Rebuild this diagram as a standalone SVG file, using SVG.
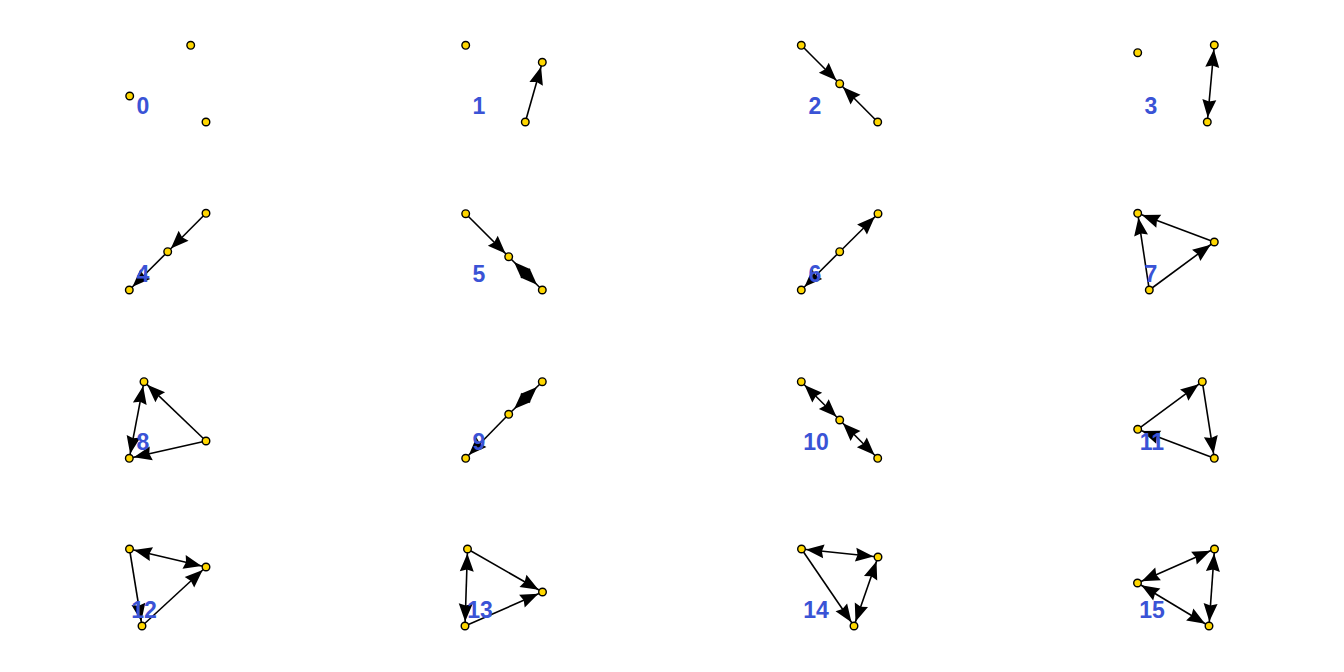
<svg xmlns="http://www.w3.org/2000/svg" width="1344" height="672" viewBox="0 0 1344 672">
<style>
.e{stroke:#000;stroke-width:1.6;fill:none;marker-end:url(#ah)}
.m{stroke:#000;stroke-width:1.6;fill:none;marker-end:url(#ah);marker-start:url(#ah)}
.d{stroke:#000;stroke-width:1.6;fill:none;marker-end:url(#ad);marker-start:url(#ad)}
.n{fill:#FFD700;stroke:#000;stroke-width:1.4}
.l{font-family:"Liberation Sans",Arial,sans-serif;font-weight:bold;font-size:23px;fill:#3A53D6;text-anchor:middle}
</style>
<defs>
<marker id="ah" markerUnits="userSpaceOnUse" orient="auto-start-reverse" refX="22.5" refY="0" markerWidth="24" markerHeight="16" overflow="visible">
<path d="M18,0 L0,-7 L2,0 L0,7 Z" fill="#000"/>
</marker>
<marker id="ad" markerUnits="userSpaceOnUse" orient="auto-start-reverse" refX="23.5" refY="0" markerWidth="24" markerHeight="16" overflow="visible">
<path d="M16,0 L-0.8,-6.5 L-0.8,6.5 Z" fill="#000"/>
</marker>
</defs>
<rect width="1344" height="672" fill="#fff"/>
<g id="edges">
<line class="e" x1="525.3" y1="122" x2="542.3" y2="62.3"/>
<line class="e" x1="801.3" y1="45.3" x2="839.7" y2="83.7"/>
<line class="e" x1="877.7" y1="122" x2="839.7" y2="83.7"/>
<line class="m" x1="1214.3" y1="45" x2="1207.3" y2="122"/>
<line class="e" x1="206" y1="213.3" x2="167.7" y2="251.7"/>
<line class="e" x1="167.7" y1="251.7" x2="129.3" y2="290"/>
<line class="e" x1="465.7" y1="213.7" x2="508.7" y2="256.7"/>
<line class="d" x1="508.7" y1="256.7" x2="542.3" y2="290"/>
<line class="e" x1="839.7" y1="251.7" x2="878" y2="213.7"/>
<line class="e" x1="839.7" y1="251.7" x2="801.3" y2="290"/>
<line class="e" x1="1214.3" y1="242" x2="1137.7" y2="213.3"/>
<line class="e" x1="1149.3" y1="290" x2="1137.7" y2="213.3"/>
<line class="e" x1="1149.3" y1="290" x2="1214.3" y2="242"/>
<line class="e" x1="206" y1="441" x2="144" y2="381.7"/>
<line class="m" x1="144" y1="381.7" x2="129.3" y2="458.3"/>
<line class="e" x1="206" y1="441" x2="129.3" y2="458.3"/>
<line class="d" x1="508.7" y1="414.3" x2="542.3" y2="381.7"/>
<line class="e" x1="508.7" y1="414.3" x2="465.7" y2="458.3"/>
<line class="m" x1="801.3" y1="381.7" x2="839.7" y2="420"/>
<line class="m" x1="839.7" y1="420" x2="877.7" y2="458.3"/>
<line class="e" x1="1137.7" y1="429.3" x2="1202.3" y2="381.7"/>
<line class="e" x1="1202.3" y1="381.7" x2="1214.3" y2="458.3"/>
<line class="e" x1="1214.3" y1="458.3" x2="1137.7" y2="429.3"/>
<line class="m" x1="129.5" y1="549" x2="206" y2="567"/>
<line class="e" x1="142" y1="626" x2="206" y2="567"/>
<line class="e" x1="129.5" y1="549" x2="142" y2="626"/>
<line class="m" x1="467.5" y1="549" x2="465" y2="626"/>
<line class="e" x1="467.5" y1="549" x2="542.5" y2="592"/>
<line class="e" x1="465" y1="626" x2="542.5" y2="592"/>
<line class="m" x1="801.5" y1="549" x2="878" y2="557"/>
<line class="e" x1="801.5" y1="549" x2="854" y2="626"/>
<line class="m" x1="854" y1="626" x2="878" y2="557"/>
<line class="m" x1="1214.5" y1="549" x2="1137.5" y2="583"/>
<line class="m" x1="1214.5" y1="549" x2="1209" y2="626"/>
<line class="m" x1="1137.5" y1="583" x2="1209" y2="626"/>
</g>
<g id="t0-a"><circle class="n" cx="190.7" cy="45.3" r="3.8"/></g>
<g id="t0-b"><circle class="n" cx="129.7" cy="96" r="3.8"/></g>
<g id="t0-c"><circle class="n" cx="206" cy="122" r="3.8"/></g>
<g id="t1-a"><circle class="n" cx="465.7" cy="45.3" r="3.8"/></g>
<g id="t1-b"><circle class="n" cx="542.3" cy="62.3" r="3.8"/></g>
<g id="t1-c"><circle class="n" cx="525.3" cy="122" r="3.8"/></g>
<g id="t2-a"><circle class="n" cx="801.3" cy="45.3" r="3.8"/></g>
<g id="t2-b"><circle class="n" cx="839.7" cy="83.7" r="3.8"/></g>
<g id="t2-c"><circle class="n" cx="877.7" cy="122" r="3.8"/></g>
<g id="t3-a"><circle class="n" cx="1137.7" cy="52.7" r="3.8"/></g>
<g id="t3-b"><circle class="n" cx="1214.3" cy="45" r="3.8"/></g>
<g id="t3-c"><circle class="n" cx="1207.3" cy="122" r="3.8"/></g>
<g id="t4-a"><circle class="n" cx="206" cy="213.3" r="3.8"/></g>
<g id="t4-b"><circle class="n" cx="167.7" cy="251.7" r="3.8"/></g>
<g id="t4-c"><circle class="n" cx="129.3" cy="290" r="3.8"/></g>
<g id="t5-a"><circle class="n" cx="465.7" cy="213.7" r="3.8"/></g>
<g id="t5-b"><circle class="n" cx="508.7" cy="256.7" r="3.8"/></g>
<g id="t5-c"><circle class="n" cx="542.3" cy="290" r="3.8"/></g>
<g id="t6-a"><circle class="n" cx="878" cy="213.7" r="3.8"/></g>
<g id="t6-b"><circle class="n" cx="839.7" cy="251.7" r="3.8"/></g>
<g id="t6-c"><circle class="n" cx="801.3" cy="290" r="3.8"/></g>
<g id="t7-a"><circle class="n" cx="1137.7" cy="213.3" r="3.8"/></g>
<g id="t7-b"><circle class="n" cx="1214.3" cy="242" r="3.8"/></g>
<g id="t7-c"><circle class="n" cx="1149.3" cy="290" r="3.8"/></g>
<g id="t8-a"><circle class="n" cx="144" cy="381.7" r="3.8"/></g>
<g id="t8-b"><circle class="n" cx="206" cy="441" r="3.8"/></g>
<g id="t8-c"><circle class="n" cx="129.3" cy="458.3" r="3.8"/></g>
<g id="t9-a"><circle class="n" cx="542.3" cy="381.7" r="3.8"/></g>
<g id="t9-b"><circle class="n" cx="508.7" cy="414.3" r="3.8"/></g>
<g id="t9-c"><circle class="n" cx="465.7" cy="458.3" r="3.8"/></g>
<g id="t10-a"><circle class="n" cx="801.3" cy="381.7" r="3.8"/></g>
<g id="t10-b"><circle class="n" cx="839.7" cy="420" r="3.8"/></g>
<g id="t10-c"><circle class="n" cx="877.7" cy="458.3" r="3.8"/></g>
<g id="t11-a"><circle class="n" cx="1202.3" cy="381.7" r="3.8"/></g>
<g id="t11-b"><circle class="n" cx="1137.7" cy="429.3" r="3.8"/></g>
<g id="t11-c"><circle class="n" cx="1214.3" cy="458.3" r="3.8"/></g>
<g id="t12-a"><circle class="n" cx="129.5" cy="549" r="3.8"/></g>
<g id="t12-b"><circle class="n" cx="206" cy="567" r="3.8"/></g>
<g id="t12-c"><circle class="n" cx="142" cy="626" r="3.8"/></g>
<g id="t13-a"><circle class="n" cx="467.5" cy="549" r="3.8"/></g>
<g id="t13-b"><circle class="n" cx="542.5" cy="592" r="3.8"/></g>
<g id="t13-c"><circle class="n" cx="465" cy="626" r="3.8"/></g>
<g id="t14-a"><circle class="n" cx="801.5" cy="549" r="3.8"/></g>
<g id="t14-b"><circle class="n" cx="878" cy="557" r="3.8"/></g>
<g id="t14-c"><circle class="n" cx="854" cy="626" r="3.8"/></g>
<g id="t15-a"><circle class="n" cx="1214.5" cy="549" r="3.8"/></g>
<g id="t15-b"><circle class="n" cx="1137.5" cy="583" r="3.8"/></g>
<g id="t15-c"><circle class="n" cx="1209" cy="626" r="3.8"/></g>
<g id="labels" class="l">
<text x="143" y="114">0</text>
<text x="479" y="114">1</text>
<text x="815" y="114">2</text>
<text x="1151" y="114">3</text>
<text x="143" y="282">4</text>
<text x="479" y="282">5</text>
<text x="815" y="282">6</text>
<text x="1151" y="282">7</text>
<text x="143" y="450">8</text>
<text x="479" y="450">9</text>
<text x="816" y="450">10</text>
<text x="1152" y="450">11</text>
<text x="144" y="618">12</text>
<text x="480" y="618">13</text>
<text x="816" y="618">14</text>
<text x="1152" y="618">15</text>
</g>
</svg>
